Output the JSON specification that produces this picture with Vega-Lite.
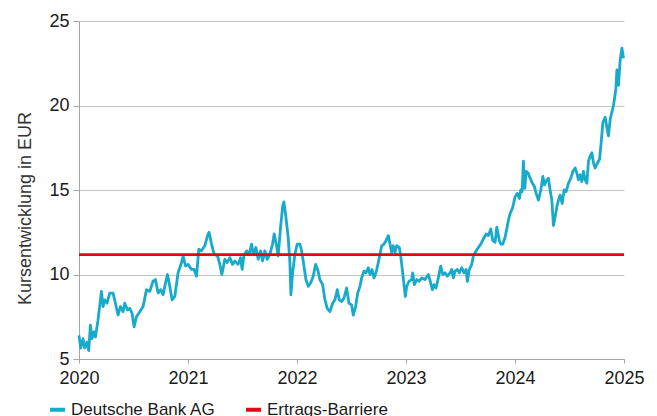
{
  "$schema": "https://vega.github.io/schema/vega-lite/v6.json",
  "width": 545,
  "height": 338,
  "autosize": "none",
  "padding": {"left": 79, "top": 21, "right": 33, "bottom": 57},
  "background": "white",
  "config": {
    "font": "Liberation Sans",
    "view": {"stroke": null},
    "axis": {"labelFont": "Liberation Sans", "titleFont": "Liberation Sans", "labelColor": "#1a1a1a", "titleColor": "#333333", "labelFontSize": 18, "titleFontSize": 18, "titleFontWeight": "normal"}
  },
  "data": {
    "values": [
      {"t":2020.0000,"v":6.4,"s":"Deutsche Bank AG"},{"t":2020.0156,"v":5.65,"s":"Deutsche Bank AG"},{"t":2020.0367,"v":6.2,"s":"Deutsche Bank AG"},{"t":2020.0523,"v":5.65,"s":"Deutsche Bank AG"},{"t":2020.0735,"v":6.0,"s":"Deutsche Bank AG"},{"t":2020.0891,"v":5.5,"s":"Deutsche Bank AG"},{"t":2020.1047,"v":7.0,"s":"Deutsche Bank AG"},{"t":2020.1194,"v":6.2,"s":"Deutsche Bank AG"},{"t":2020.1350,"v":6.6,"s":"Deutsche Bank AG"},{"t":2020.1506,"v":6.3,"s":"Deutsche Bank AG"},
      {"t":2020.1745,"v":7.3,"s":"Deutsche Bank AG"},{"t":2020.2057,"v":9.0,"s":"Deutsche Bank AG"},{"t":2020.2204,"v":8.1,"s":"Deutsche Bank AG"},{"t":2020.2360,"v":8.5,"s":"Deutsche Bank AG"},{"t":2020.2571,"v":8.3,"s":"Deutsche Bank AG"},{"t":2020.2819,"v":8.9,"s":"Deutsche Bank AG"},{"t":2020.3122,"v":8.9,"s":"Deutsche Bank AG"},{"t":2020.3343,"v":8.3,"s":"Deutsche Bank AG"},{"t":2020.3581,"v":7.6,"s":"Deutsche Bank AG"},{"t":2020.3802,"v":8.1,"s":"Deutsche Bank AG"},
      {"t":2020.4040,"v":7.8,"s":"Deutsche Bank AG"},{"t":2020.4197,"v":8.3,"s":"Deutsche Bank AG"},{"t":2020.4444,"v":7.9,"s":"Deutsche Bank AG"},{"t":2020.4656,"v":8.0,"s":"Deutsche Bank AG"},{"t":2020.4867,"v":7.7,"s":"Deutsche Bank AG"},{"t":2020.5051,"v":6.9,"s":"Deutsche Bank AG"},{"t":2020.5271,"v":7.5,"s":"Deutsche Bank AG"},{"t":2020.5574,"v":7.8,"s":"Deutsche Bank AG"},{"t":2020.5877,"v":8.1,"s":"Deutsche Bank AG"},{"t":2020.6189,"v":9.1,"s":"Deutsche Bank AG"},
      {"t":2020.6492,"v":9.0,"s":"Deutsche Bank AG"},{"t":2020.6795,"v":9.6,"s":"Deutsche Bank AG"},{"t":2020.7016,"v":9.7,"s":"Deutsche Bank AG"},{"t":2020.7254,"v":8.9,"s":"Deutsche Bank AG"},{"t":2020.7502,"v":9.1,"s":"Deutsche Bank AG"},{"t":2020.7713,"v":8.8,"s":"Deutsche Bank AG"},{"t":2020.7934,"v":9.5,"s":"Deutsche Bank AG"},{"t":2020.8118,"v":10.0,"s":"Deutsche Bank AG"},{"t":2020.8329,"v":9.3,"s":"Deutsche Bank AG"},{"t":2020.8540,"v":8.5,"s":"Deutsche Bank AG"},
      {"t":2020.8788,"v":8.7,"s":"Deutsche Bank AG"},{"t":2020.9091,"v":10.1,"s":"Deutsche Bank AG"},{"t":2020.9403,"v":10.7,"s":"Deutsche Bank AG"},{"t":2020.9550,"v":11.1,"s":"Deutsche Bank AG"},{"t":2020.9770,"v":10.5,"s":"Deutsche Bank AG"},{"t":2021.0009,"v":10.6,"s":"Deutsche Bank AG"},{"t":2021.0321,"v":10.3,"s":"Deutsche Bank AG"},{"t":2021.0560,"v":10.3,"s":"Deutsche Bank AG"},{"t":2021.0780,"v":9.9,"s":"Deutsche Bank AG"},{"t":2021.0992,"v":11.5,"s":"Deutsche Bank AG"},
      {"t":2021.1240,"v":11.4,"s":"Deutsche Bank AG"},{"t":2021.1543,"v":11.7,"s":"Deutsche Bank AG"},{"t":2021.1791,"v":12.3,"s":"Deutsche Bank AG"},{"t":2021.1938,"v":12.5,"s":"Deutsche Bank AG"},{"t":2021.2158,"v":11.8,"s":"Deutsche Bank AG"},{"t":2021.2397,"v":11.2,"s":"Deutsche Bank AG"},{"t":2021.2709,"v":11.1,"s":"Deutsche Bank AG"},{"t":2021.2920,"v":10.6,"s":"Deutsche Bank AG"},{"t":2021.3104,"v":10.0,"s":"Deutsche Bank AG"},{"t":2021.3379,"v":10.9,"s":"Deutsche Bank AG"},
      {"t":2021.3590,"v":10.7,"s":"Deutsche Bank AG"},{"t":2021.3838,"v":11.0,"s":"Deutsche Bank AG"},{"t":2021.4086,"v":10.6,"s":"Deutsche Bank AG"},{"t":2021.4298,"v":10.8,"s":"Deutsche Bank AG"},{"t":2021.4601,"v":10.6,"s":"Deutsche Bank AG"},{"t":2021.4821,"v":11.0,"s":"Deutsche Bank AG"},{"t":2021.4968,"v":10.3,"s":"Deutsche Bank AG"},{"t":2021.5124,"v":11.1,"s":"Deutsche Bank AG"},{"t":2021.5372,"v":11.4,"s":"Deutsche Bank AG"},{"t":2021.5611,"v":11.2,"s":"Deutsche Bank AG"},
      {"t":2021.5831,"v":11.8,"s":"Deutsche Bank AG"},{"t":2021.5978,"v":11.2,"s":"Deutsche Bank AG"},{"t":2021.6226,"v":11.6,"s":"Deutsche Bank AG"},{"t":2021.6437,"v":10.9,"s":"Deutsche Bank AG"},{"t":2021.6657,"v":11.4,"s":"Deutsche Bank AG"},{"t":2021.6841,"v":10.8,"s":"Deutsche Bank AG"},{"t":2021.7052,"v":11.4,"s":"Deutsche Bank AG"},{"t":2021.7264,"v":10.9,"s":"Deutsche Bank AG"},{"t":2021.7511,"v":11.2,"s":"Deutsche Bank AG"},{"t":2021.7759,"v":11.8,"s":"Deutsche Bank AG"},
      {"t":2021.7906,"v":12.4,"s":"Deutsche Bank AG"},{"t":2021.8127,"v":11.7,"s":"Deutsche Bank AG"},{"t":2021.8274,"v":11.1,"s":"Deutsche Bank AG"},{"t":2021.8494,"v":12.8,"s":"Deutsche Bank AG"},{"t":2021.8678,"v":14.0,"s":"Deutsche Bank AG"},{"t":2021.8797,"v":14.3,"s":"Deutsche Bank AG"},{"t":2021.8981,"v":13.4,"s":"Deutsche Bank AG"},{"t":2021.9192,"v":12.2,"s":"Deutsche Bank AG"},{"t":2021.9348,"v":10.7,"s":"Deutsche Bank AG"},{"t":2021.9440,"v":8.8,"s":"Deutsche Bank AG"},
      {"t":2021.9596,"v":10.1,"s":"Deutsche Bank AG"},{"t":2021.9807,"v":11.2,"s":"Deutsche Bank AG"},{"t":2022.0018,"v":11.8,"s":"Deutsche Bank AG"},{"t":2022.0266,"v":11.8,"s":"Deutsche Bank AG"},{"t":2022.0422,"v":11.4,"s":"Deutsche Bank AG"},{"t":2022.0569,"v":10.8,"s":"Deutsche Bank AG"},{"t":2022.0817,"v":9.7,"s":"Deutsche Bank AG"},{"t":2022.1028,"v":9.3,"s":"Deutsche Bank AG"},{"t":2022.1249,"v":9.5,"s":"Deutsche Bank AG"},{"t":2022.1488,"v":9.9,"s":"Deutsche Bank AG"},
      {"t":2022.1708,"v":10.6,"s":"Deutsche Bank AG"},{"t":2022.1892,"v":10.3,"s":"Deutsche Bank AG"},{"t":2022.2103,"v":9.7,"s":"Deutsche Bank AG"},{"t":2022.2351,"v":9.4,"s":"Deutsche Bank AG"},{"t":2022.2562,"v":8.5,"s":"Deutsche Bank AG"},{"t":2022.2773,"v":8.0,"s":"Deutsche Bank AG"},{"t":2022.3021,"v":7.8,"s":"Deutsche Bank AG"},{"t":2022.3269,"v":8.3,"s":"Deutsche Bank AG"},{"t":2022.3480,"v":8.5,"s":"Deutsche Bank AG"},{"t":2022.3691,"v":9.1,"s":"Deutsche Bank AG"},
      {"t":2022.3875,"v":8.5,"s":"Deutsche Bank AG"},{"t":2022.4096,"v":8.4,"s":"Deutsche Bank AG"},{"t":2022.4307,"v":8.6,"s":"Deutsche Bank AG"},{"t":2022.4555,"v":9.2,"s":"Deutsche Bank AG"},{"t":2022.4766,"v":8.3,"s":"Deutsche Bank AG"},{"t":2022.5014,"v":8.2,"s":"Deutsche Bank AG"},{"t":2022.5161,"v":7.6,"s":"Deutsche Bank AG"},{"t":2022.5381,"v":8.1,"s":"Deutsche Bank AG"},{"t":2022.5565,"v":8.9,"s":"Deutsche Bank AG"},{"t":2022.5776,"v":9.3,"s":"Deutsche Bank AG"},
      {"t":2022.5932,"v":9.8,"s":"Deutsche Bank AG"},{"t":2022.6143,"v":10.2,"s":"Deutsche Bank AG"},{"t":2022.6327,"v":10.1,"s":"Deutsche Bank AG"},{"t":2022.6538,"v":10.4,"s":"Deutsche Bank AG"},{"t":2022.6694,"v":10.0,"s":"Deutsche Bank AG"},{"t":2022.6878,"v":10.3,"s":"Deutsche Bank AG"},{"t":2022.7062,"v":9.8,"s":"Deutsche Bank AG"},{"t":2022.7245,"v":10.1,"s":"Deutsche Bank AG"},{"t":2022.7456,"v":10.7,"s":"Deutsche Bank AG"},{"t":2022.7612,"v":11.2,"s":"Deutsche Bank AG"},
      {"t":2022.7769,"v":11.7,"s":"Deutsche Bank AG"},{"t":2022.7980,"v":11.8,"s":"Deutsche Bank AG"},{"t":2022.8164,"v":12.0,"s":"Deutsche Bank AG"},{"t":2022.8375,"v":12.3,"s":"Deutsche Bank AG"},{"t":2022.8531,"v":11.8,"s":"Deutsche Bank AG"},{"t":2022.8687,"v":11.3,"s":"Deutsche Bank AG"},{"t":2022.8834,"v":11.7,"s":"Deutsche Bank AG"},{"t":2022.8990,"v":11.3,"s":"Deutsche Bank AG"},{"t":2022.9146,"v":11.7,"s":"Deutsche Bank AG"},{"t":2022.9385,"v":11.6,"s":"Deutsche Bank AG"},
      {"t":2022.9513,"v":11.1,"s":"Deutsche Bank AG"},{"t":2022.9660,"v":10.3,"s":"Deutsche Bank AG"},{"t":2022.9816,"v":9.4,"s":"Deutsche Bank AG"},{"t":2022.9936,"v":8.7,"s":"Deutsche Bank AG"},{"t":2023.0064,"v":9.3,"s":"Deutsche Bank AG"},{"t":2023.0275,"v":9.6,"s":"Deutsche Bank AG"},{"t":2023.0523,"v":9.7,"s":"Deutsche Bank AG"},{"t":2023.0615,"v":10.1,"s":"Deutsche Bank AG"},{"t":2023.0762,"v":9.4,"s":"Deutsche Bank AG"},{"t":2023.0983,"v":9.7,"s":"Deutsche Bank AG"},
      {"t":2023.1221,"v":9.6,"s":"Deutsche Bank AG"},{"t":2023.1442,"v":9.8,"s":"Deutsche Bank AG"},{"t":2023.1745,"v":9.7,"s":"Deutsche Bank AG"},{"t":2023.2048,"v":10.0,"s":"Deutsche Bank AG"},{"t":2023.2268,"v":9.5,"s":"Deutsche Bank AG"},{"t":2023.2415,"v":9.1,"s":"Deutsche Bank AG"},{"t":2023.2571,"v":9.4,"s":"Deutsche Bank AG"},{"t":2023.2755,"v":9.2,"s":"Deutsche Bank AG"},{"t":2023.2966,"v":9.8,"s":"Deutsche Bank AG"},{"t":2023.3186,"v":10.5,"s":"Deutsche Bank AG"},
      {"t":2023.3370,"v":10.0,"s":"Deutsche Bank AG"},{"t":2023.3581,"v":10.1,"s":"Deutsche Bank AG"},{"t":2023.3792,"v":9.9,"s":"Deutsche Bank AG"},{"t":2023.4040,"v":10.1,"s":"Deutsche Bank AG"},{"t":2023.4197,"v":10.3,"s":"Deutsche Bank AG"},{"t":2023.4343,"v":9.8,"s":"Deutsche Bank AG"},{"t":2023.4500,"v":10.2,"s":"Deutsche Bank AG"},{"t":2023.4711,"v":10.3,"s":"Deutsche Bank AG"},{"t":2023.4894,"v":10.1,"s":"Deutsche Bank AG"},{"t":2023.5115,"v":10.4,"s":"Deutsche Bank AG"},
      {"t":2023.5326,"v":10.1,"s":"Deutsche Bank AG"},{"t":2023.5510,"v":10.3,"s":"Deutsche Bank AG"},{"t":2023.5629,"v":9.6,"s":"Deutsche Bank AG"},{"t":2023.5813,"v":10.3,"s":"Deutsche Bank AG"},{"t":2023.6033,"v":10.6,"s":"Deutsche Bank AG"},{"t":2023.6180,"v":11.1,"s":"Deutsche Bank AG"},{"t":2023.6428,"v":11.4,"s":"Deutsche Bank AG"},{"t":2023.6639,"v":11.6,"s":"Deutsche Bank AG"},{"t":2023.6860,"v":11.8,"s":"Deutsche Bank AG"},{"t":2023.7098,"v":12.1,"s":"Deutsche Bank AG"},
      {"t":2023.7346,"v":12.4,"s":"Deutsche Bank AG"},{"t":2023.7557,"v":12.3,"s":"Deutsche Bank AG"},{"t":2023.7778,"v":12.7,"s":"Deutsche Bank AG"},{"t":2023.7961,"v":12.0,"s":"Deutsche Bank AG"},{"t":2023.8173,"v":11.9,"s":"Deutsche Bank AG"},{"t":2023.8329,"v":12.8,"s":"Deutsche Bank AG"},{"t":2023.8567,"v":12.0,"s":"Deutsche Bank AG"},{"t":2023.8696,"v":11.8,"s":"Deutsche Bank AG"},{"t":2023.8880,"v":11.8,"s":"Deutsche Bank AG"},{"t":2023.9091,"v":12.2,"s":"Deutsche Bank AG"},
      {"t":2023.9247,"v":12.7,"s":"Deutsche Bank AG"},{"t":2023.9394,"v":13.2,"s":"Deutsche Bank AG"},{"t":2023.9550,"v":13.6,"s":"Deutsche Bank AG"},{"t":2023.9798,"v":14.0,"s":"Deutsche Bank AG"},{"t":2024.0009,"v":14.6,"s":"Deutsche Bank AG"},{"t":2024.0220,"v":14.8,"s":"Deutsche Bank AG"},{"t":2024.0404,"v":14.5,"s":"Deutsche Bank AG"},{"t":2024.0533,"v":15.0,"s":"Deutsche Bank AG"},{"t":2024.0652,"v":14.9,"s":"Deutsche Bank AG"},{"t":2024.0771,"v":16.7,"s":"Deutsche Bank AG"},
      {"t":2024.0900,"v":15.1,"s":"Deutsche Bank AG"},{"t":2024.1019,"v":16.1,"s":"Deutsche Bank AG"},{"t":2024.1203,"v":16.0,"s":"Deutsche Bank AG"},{"t":2024.1387,"v":15.7,"s":"Deutsche Bank AG"},{"t":2024.1598,"v":15.4,"s":"Deutsche Bank AG"},{"t":2024.1781,"v":15.2,"s":"Deutsche Bank AG"},{"t":2024.1938,"v":14.8,"s":"Deutsche Bank AG"},{"t":2024.2149,"v":14.4,"s":"Deutsche Bank AG"},{"t":2024.2369,"v":15.0,"s":"Deutsche Bank AG"},{"t":2024.2553,"v":15.8,"s":"Deutsche Bank AG"},
      {"t":2024.2700,"v":15.3,"s":"Deutsche Bank AG"},{"t":2024.2920,"v":15.6,"s":"Deutsche Bank AG"},{"t":2024.3067,"v":15.7,"s":"Deutsche Bank AG"},{"t":2024.3223,"v":15.0,"s":"Deutsche Bank AG"},{"t":2024.3379,"v":14.4,"s":"Deutsche Bank AG"},{"t":2024.3526,"v":12.9,"s":"Deutsche Bank AG"},{"t":2024.3682,"v":13.4,"s":"Deutsche Bank AG"},{"t":2024.3838,"v":14.0,"s":"Deutsche Bank AG"},{"t":2024.3985,"v":14.4,"s":"Deutsche Bank AG"},{"t":2024.4141,"v":14.7,"s":"Deutsche Bank AG"},
      {"t":2024.4325,"v":14.2,"s":"Deutsche Bank AG"},{"t":2024.4509,"v":15.0,"s":"Deutsche Bank AG"},{"t":2024.4692,"v":14.9,"s":"Deutsche Bank AG"},{"t":2024.4904,"v":15.4,"s":"Deutsche Bank AG"},{"t":2024.5124,"v":15.7,"s":"Deutsche Bank AG"},{"t":2024.5308,"v":16.1,"s":"Deutsche Bank AG"},{"t":2024.5519,"v":16.3,"s":"Deutsche Bank AG"},{"t":2024.5675,"v":16.0,"s":"Deutsche Bank AG"},{"t":2024.5822,"v":15.6,"s":"Deutsche Bank AG"},{"t":2024.5978,"v":15.9,"s":"Deutsche Bank AG"},
      {"t":2024.6134,"v":15.5,"s":"Deutsche Bank AG"},{"t":2024.6281,"v":16.1,"s":"Deutsche Bank AG"},{"t":2024.6437,"v":15.6,"s":"Deutsche Bank AG"},{"t":2024.6593,"v":15.4,"s":"Deutsche Bank AG"},{"t":2024.6740,"v":16.7,"s":"Deutsche Bank AG"},{"t":2024.6896,"v":17.0,"s":"Deutsche Bank AG"},{"t":2024.7053,"v":17.2,"s":"Deutsche Bank AG"},{"t":2024.7199,"v":16.6,"s":"Deutsche Bank AG"},{"t":2024.7355,"v":16.3,"s":"Deutsche Bank AG"},{"t":2024.7567,"v":16.6,"s":"Deutsche Bank AG"},
      {"t":2024.7750,"v":16.8,"s":"Deutsche Bank AG"},{"t":2024.7906,"v":17.8,"s":"Deutsche Bank AG"},{"t":2024.8063,"v":19.0,"s":"Deutsche Bank AG"},{"t":2024.8274,"v":19.3,"s":"Deutsche Bank AG"},{"t":2024.8430,"v":18.7,"s":"Deutsche Bank AG"},{"t":2024.8577,"v":18.2,"s":"Deutsche Bank AG"},{"t":2024.8733,"v":19.2,"s":"Deutsche Bank AG"},{"t":2024.8889,"v":19.6,"s":"Deutsche Bank AG"},{"t":2024.9036,"v":20.0,"s":"Deutsche Bank AG"},{"t":2024.9128,"v":20.4,"s":"Deutsche Bank AG"},
      {"t":2024.9256,"v":21.0,"s":"Deutsche Bank AG"},{"t":2024.9348,"v":22.1,"s":"Deutsche Bank AG"},{"t":2024.9495,"v":21.2,"s":"Deutsche Bank AG"},{"t":2024.9651,"v":22.7,"s":"Deutsche Bank AG"},{"t":2024.9807,"v":23.4,"s":"Deutsche Bank AG"},{"t":2024.9954,"v":22.8,"s":"Deutsche Bank AG"},
      {"t":2020.0,"v":11.18,"s":"Ertrags-Barriere"},{"t":2025.0,"v":11.18,"s":"Ertrags-Barriere"}
    ]
  },
  "mark": {"type": "line", "strokeWidth": 2.8, "strokeJoin": "round"},
  "encoding": {
    "x": {
      "field": "t", "type": "quantitative",
      "scale": {"domain": [2020, 2025], "nice": false, "zero": false},
      "axis": {"title": null, "values": [2020, 2021, 2022, 2023, 2024, 2025], "format": "d", "grid": false, "domainColor": "#a6a6a6", "tickColor": "#a6a6a6", "tickSize": 4, "labelPadding": 6, "labelFlush": false, "labelOverlap": false}
    },
    "y": {
      "field": "v", "type": "quantitative",
      "scale": {"domain": [5, 25], "nice": false, "zero": false},
      "axis": {"title": "Kursentwicklung in EUR", "values": [5, 10, 15, 20, 25], "grid": true, "gridColor": "#c4c4c4", "gridWidth": 1, "domainColor": "#a6a6a6", "tickColor": "#a6a6a6", "tickSize": 6, "labelPadding": 4, "titlePadding": 14, "titleY": 187}
    },
    "color": {
      "field": "s", "type": "nominal",
      "scale": {"domain": ["Deutsche Bank AG", "Ertrags-Barriere"], "range": ["#17aacb", "#e30613"]},
      "legend": {"title": null, "orient": "none", "legendX": -31, "legendY": 379, "direction": "horizontal", "symbolType": "stroke", "symbolStrokeWidth": 4, "symbolSize": 225, "labelFontSize": 17, "labelFont": "Liberation Sans", "labelColor": "#1a1a1a", "columnPadding": 22, "labelOffset": 4}
    }
  }
}
